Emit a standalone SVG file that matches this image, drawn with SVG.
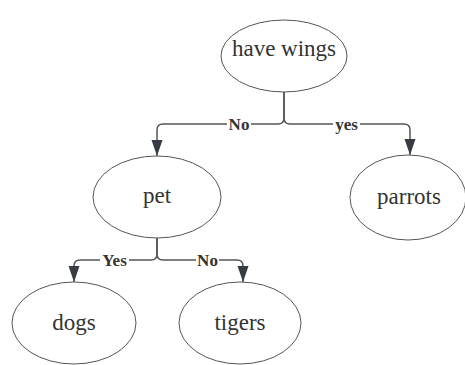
<svg xmlns="http://www.w3.org/2000/svg" width="465" height="365" viewBox="0 0 465 365">
<defs>
<marker id="arr" markerUnits="userSpaceOnUse" markerWidth="17" markerHeight="12" refX="16" refY="5.5" orient="auto">
<path d="M0,0 L16,5.5 L0,11 Z" fill="#373b44"/>
</marker>
<style>
.node ellipse{fill:#fff;stroke:#555;stroke-width:1}
.node text{font-family:"Liberation Serif",serif;font-size:23px;fill:#333;text-anchor:middle}
.edge{fill:none;stroke:#555;stroke-width:1.5}
.lbl rect{fill:#fff}
.lbl text{font-family:"Liberation Serif",serif;font-size:17px;font-weight:bold;fill:#333;text-anchor:middle}
</style>
</defs>
<rect width="465" height="365" fill="#fff"/>
<g id="connectors">
<path class="edge" d="M284,92 V118 Q284,124 278,124 H163 Q157,124 157,130 V156" marker-end="url(#arr)"/>
<path class="edge" d="M284,92 V118 Q284,124 290,124 H404 Q410,124 410,130 V155" marker-end="url(#arr)"/>
<path class="edge" d="M157,238 V254 Q157,260 151,260 H80 Q74,260 74,266 V282" marker-end="url(#arr)"/>
<path class="edge" d="M157,238 V254 Q157,260 163,260 H237 Q243,260 243,266 V282" marker-end="url(#arr)"/>
<g class="lbl">
<rect x="227" y="115" width="24" height="18"/><text x="239" y="130">No</text>
<rect x="333" y="115" width="27" height="18"/><text x="346.5" y="130">yes</text>
<rect x="100" y="251" width="29" height="18"/><text x="114.5" y="266">Yes</text>
<rect x="196" y="251" width="23" height="18"/><text x="207.5" y="266">No</text>
</g>
</g>
<g id="have-wings" class="node"><ellipse cx="284" cy="56" rx="63" ry="36"/><text x="284" y="56">have wings</text></g>
<g id="pet" class="node"><ellipse cx="157" cy="197" rx="64" ry="41"/><text x="157" y="203">pet</text></g>
<g id="parrots" class="node"><ellipse cx="408" cy="197.5" rx="58" ry="42.5"/><text x="409" y="204">parrots</text></g>
<g id="dogs" class="node"><ellipse cx="74" cy="323" rx="62" ry="41"/><text x="74" y="330">dogs</text></g>
<g id="tigers" class="node"><ellipse cx="240" cy="323" rx="61" ry="41"/><text x="240" y="330">tigers</text></g>
</svg>
